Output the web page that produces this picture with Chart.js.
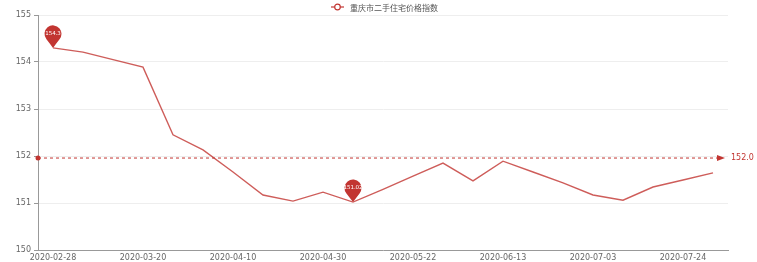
<!DOCTYPE html>
<html>
<head>
<meta charset="utf-8">
<script src="https://cdn.jsdelivr.net/npm/chart.js@4/dist/chart.umd.min.js"></script>
<style>
  body { margin: 0; background: #fff; }
</style>
</head>
<body>
<canvas id="c" width="757" height="262"></canvas>
<script>
// data
var seriesName = "重庆市二手住宅价格指数";
var dates = [
  "2020-02-28", "2020-03-06", "2020-03-13", "2020-03-20", "2020-03-27", "2020-04-03",
  "2020-04-10", "2020-04-17", "2020-04-24", "2020-04-30", "2020-05-08", "2020-05-15",
  "2020-05-22", "2020-05-29", "2020-06-05", "2020-06-13", "2020-06-19", "2020-06-26",
  "2020-07-03", "2020-07-10", "2020-07-17", "2020-07-24", "2020-07-31"
];
var values = [
  154.3, 154.21, 154.05, 153.89, 152.45, 152.13,
  151.66, 151.17, 151.04, 151.23, 151.02, 151.29,
  151.57, 151.85, 151.47, 151.89, 151.66, 151.43,
  151.17, 151.06, 151.34, 151.49, 151.64
];
var yTicks = [150, 151, 152, 153, 154, 155];

var red = "#c23531";

var avg = 0;
for (var i in values) avg += values[i];
avg = avg / values.length;

// echarts-like markPoint / markLine / legend
var marks = {
  id: 'marks',
  afterDatasetsDraw: function(chart) {
    var ctx = chart.ctx;
    var xs = chart.scales.x, ys = chart.scales.y;
    var area = chart.chartArea;

    // average line
    var ay = ys.getPixelForValue(avg);
    ctx.save();
    ctx.strokeStyle = red;
    ctx.lineWidth = 1;
    ctx.setLineDash([3, 3]);
    ctx.beginPath();
    ctx.moveTo(area.left, ay);
    ctx.lineTo(area.right - 8, ay);
    ctx.stroke();
    ctx.setLineDash([]);
    ctx.fillStyle = red;
    ctx.beginPath();
    ctx.arc(area.left, ay, 2.5, 0, Math.PI * 2);
    ctx.fill();
    ctx.beginPath();
    ctx.moveTo(area.right - 3, ay);
    ctx.lineTo(area.right - 11, ay - 3);
    ctx.lineTo(area.right - 11, ay + 3);
    ctx.closePath();
    ctx.fill();
    ctx.font = '8px "DejaVu Sans", sans-serif';
    ctx.textAlign = 'left';
    ctx.textBaseline = 'middle';
    ctx.fillText(avg.toFixed(1), area.right + 3, ay);
    ctx.restore();

    // max / min pins
    var maxI = 0, minI = 0;
    for (var i = 0; i < values.length; i++) {
      if (values[i] > values[maxI]) maxI = i;
      if (values[i] < values[minI]) minI = i;
    }
    [maxI, minI].forEach(function(k) {
      var px = xs.getPixelForValue(k);
      var py = ys.getPixelForValue(values[k]);
      var r = 8.5;
      var cy = py - r * 1.65;
      ctx.save();
      ctx.fillStyle = red;
      ctx.beginPath();
      ctx.arc(px, cy, r, Math.PI * 0.78, Math.PI * 0.22);
      ctx.quadraticCurveTo(px + 3, py - 4, px, py);
      ctx.quadraticCurveTo(px - 3, py - 4, px - r * Math.cos(Math.PI * 0.22), cy + r * Math.sin(Math.PI * 0.22));
      ctx.closePath();
      ctx.fill();
      ctx.fillStyle = '#fff';
      ctx.font = '5.5px "DejaVu Sans", sans-serif';
      ctx.textAlign = 'center';
      ctx.textBaseline = 'middle';
      ctx.fillText(String(values[k]), px, cy);
      ctx.restore();
    });

    // legend
    ctx.save();
    ctx.font = '8px "Noto Sans CJK SC", sans-serif';
    var tw = ctx.measureText(seriesName).width;
    var lx = 385 - (tw + 20) / 2;
    var ly = 7;
    ctx.strokeStyle = red;
    ctx.lineWidth = 1.2;
    ctx.beginPath();
    ctx.moveTo(lx, ly);
    ctx.lineTo(lx + 13, ly);
    ctx.stroke();
    ctx.fillStyle = '#fff';
    ctx.beginPath();
    ctx.arc(lx + 6.5, ly, 2.8, 0, Math.PI * 2);
    ctx.fill();
    ctx.stroke();
    ctx.fillStyle = '#555';
    ctx.textAlign = 'left';
    ctx.textBaseline = 'middle';
    ctx.fillText(seriesName, lx + 19, ly + 0.5);
    ctx.restore();
  }
};

new Chart(document.getElementById('c'), {
  type: 'line',
  data: {
    labels: dates,
    datasets: [{
      label: seriesName,
      data: values,
      borderColor: "rgba(194, 53, 49, 0.8)",
      borderWidth: 1.4,
      pointRadius: 0,
      fill: false,
      tension: 0
    }]
  },
  options: {
    responsive: false,
    animation: false,
    devicePixelRatio: 1,
    layout: { padding: { top: 15, right: 29, left: 0, bottom: 0 } },
    plugins: {
      legend: { display: false },
      tooltip: { enabled: false }
    },
    scales: {
      x: {
        offset: true,
        grid: { display: false, drawTicks: false },
        border: { color: '#999' },
        ticks: {
          autoSkip: false,
          maxRotation: 0,
          padding: 3,
          color: '#666',
          font: { size: 8, family: '"DejaVu Sans", sans-serif' },
          callback: function(v, i) { return i % 3 == 0 ? dates[i] : ''; }
        },
        afterFit: function(s) { s.height = 12; }
      },
      y: {
        min: yTicks[0],
        max: yTicks[yTicks.length - 1],
        grid: { color: '#eee', tickLength: 4, tickColor: '#999' },
        border: { color: '#999' },
        ticks: {
          stepSize: 1,
          padding: 3,
          color: '#666',
          font: { size: 8, family: '"DejaVu Sans", sans-serif' }
        },
        afterFit: function(s) { s.width = 38; }
      }
    }
  },
  plugins: [marks]
});
</script>
</body>
</html>
